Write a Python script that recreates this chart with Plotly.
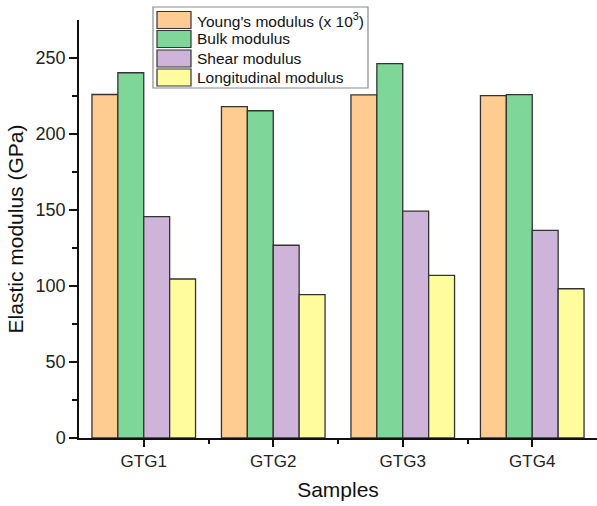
import plotly.graph_objects as go

# Elastic moduli of the four glass samples (GPa; Young's shown scaled x 10^3)
samples = ["GTG1", "GTG2", "GTG3", "GTG4"]
youngs = [226.0, 218.0, 225.7, 225.2]
bulk = [240.3, 215.3, 246.3, 225.9]
shear = [145.6, 126.8, 149.3, 136.6]
longitudinal = [104.6, 94.3, 107.0, 98.2]

series_names = [
    "Young's modulus (x 10<sup>3</sup>)",
    "Bulk modulus",
    "Shear modulus",
    "Longitudinal modulus",
]
series_values = [youngs, bulk, shear, longitudinal]
colors = ["#FECC90", "#7ED698", "#CDB4D8", "#FFFC9E"]

W, H = 597, 506
ML, MR, MT, MB = 79, 0, 20, 68
plot_w = W - ML - MR
plot_h = H - MT - MB

x_pos = list(range(len(samples)))

fig = go.Figure()
for name, vals, col in zip(series_names, series_values, colors):
    fig.add_trace(go.Bar(
        x=x_pos, y=vals, name=name,
        marker=dict(color=col, line=dict(color="#333333", width=1.3)),
        showlegend=False,
    ))

font_family = "Liberation Sans, Arial, sans-serif"

fig.update_layout(
    width=W, height=H,
    margin=dict(l=ML, r=MR, t=MT, b=MB),
    paper_bgcolor="white", plot_bgcolor="white",
    barmode="group", bargap=0.2, bargroupgap=0.0,
    font=dict(family=font_family, color="#222222"),
    xaxis=dict(
        range=[-0.5, 3.5],
        tickmode="array", tickvals=x_pos, ticktext=samples,
        ticks="outside", ticklen=7, tickwidth=1.5, tickcolor="#111111",
        minor=dict(tickmode="array", tickvals=[0.5, 1.5, 2.5],
                   ticks="outside", ticklen=4, tickwidth=1.5, tickcolor="#111111"),
        showline=True, linecolor="#111111", linewidth=1.5,
        showgrid=False, zeroline=False,
        tickfont=dict(size=17, color="#222222"),
        title=dict(text="Samples", font=dict(size=21, color="#111111"), standoff=12),
    ),
    yaxis=dict(
        range=[0, 275],
        tickmode="array", tickvals=[0, 50, 100, 150, 200, 250],
        ticks="outside", ticklen=8, tickwidth=1.5, tickcolor="#111111",
        minor=dict(tickmode="array", tickvals=[25, 75, 125, 175, 225],
                   ticks="outside", ticklen=5, tickwidth=1.5, tickcolor="#111111"),
        showline=True, linecolor="#111111", linewidth=1.5,
        showgrid=False, zeroline=False,
        tickfont=dict(size=18, color="#222222"),
        title=dict(text="Elastic modulus (GPa)", font=dict(size=21, color="#111111"), standoff=6),
    ),
)


def px_x(px):
    return (px - ML) / plot_w


def px_y(py):
    return (H - MB - py) / plot_h


# Legend box with large swatches
shapes = [dict(
    type="rect", xref="paper", yref="paper",
    x0=px_x(153), x1=px_x(368), y0=px_y(88), y1=px_y(7),
    line=dict(color="#8a8a8a", width=1.2), fillcolor="white", layer="above",
)]
annotations = []
row_centers = [20, 39, 58.5, 77.5]
for name, col, cy in zip(series_names, colors, row_centers):
    shapes.append(dict(
        type="rect", xref="paper", yref="paper",
        x0=px_x(157), x1=px_x(191), y0=px_y(cy + 8.5), y1=px_y(cy - 8.5),
        line=dict(color="#333333", width=1.2), fillcolor=col, layer="above",
    ))
    annotations.append(dict(
        xref="paper", yref="paper", x=px_x(195), y=px_y(cy),
        xanchor="left", yanchor="middle", showarrow=False,
        text=name, font=dict(size=15.5, color="#111111", family=font_family),
    ))

fig.update_layout(shapes=shapes, annotations=annotations)

fig.write_html("out.html")
